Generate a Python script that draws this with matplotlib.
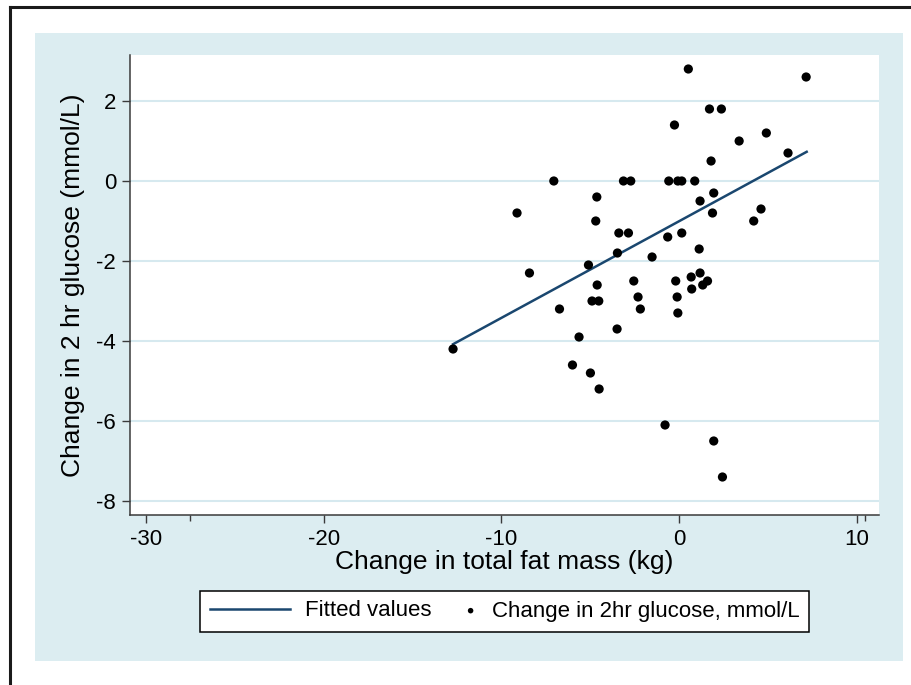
import numpy as np
import matplotlib
matplotlib.use("Agg")
import matplotlib.pyplot as plt
from matplotlib.patches import Rectangle
from matplotlib.lines import Line2D
from matplotlib.legend_handler import HandlerPathCollection

plt.rcParams['font.family'] = ['Liberation Sans', 'DejaVu Sans']
plt.rcParams['axes.unicode_minus'] = False

# change in total fat mass (kg) vs change in 2 hr glucose (mmol/L)
fat_change = [0.52, 7.15, 1.71, 2.38, -0.26, 3.38, 4.91, 6.13, 1.80,
              -7.05, -3.13, -2.72, -0.58, -0.07, 0.15, 0.88,
              -4.63, -9.12, -4.69, 1.18, 1.95, 1.88, 4.61, 4.20,
              -3.39, -2.85, -0.64, 0.15, -3.47, -1.52, 1.13, -5.10,
              -8.42, -4.61, -2.55, -0.19, 0.68, 1.18, 1.60, 1.33, 0.71,
              -4.90, -4.52, -2.31, -0.11, -2.18, -0.07, -6.73, -3.49,
              -5.63, -12.72, -6.00, -4.99, -4.50, -0.79, 1.95, 2.44]
glucose_change = [2.8, 2.6, 1.8, 1.8, 1.4, 1.0, 1.2, 0.7, 0.5,
                  0.0, 0.0, 0.0, 0.0, 0.0, 0.0, 0.0,
                  -0.4, -0.8, -1.0, -0.5, -0.3, -0.8, -0.7, -1.0,
                  -1.3, -1.3, -1.4, -1.3, -1.8, -1.9, -1.7, -2.1,
                  -2.3, -2.6, -2.5, -2.5, -2.4, -2.3, -2.5, -2.6, -2.7,
                  -3.0, -3.0, -2.9, -2.9, -3.2, -3.3, -3.2, -3.7,
                  -3.9, -4.2, -4.6, -4.8, -5.2, -6.1, -6.5, -7.4]

# fitted line end points
fit_x = [-12.72, 7.18]
fit_y = [-4.08, 0.73]

x_ticks = [-30, -20, -10, 0, 10]
y_ticks = [-8, -6, -4, -2, 0, 2]

bg = '#dcedf1'
grid_col = '#d6e9ef'
axis_col = '#3a3a3a'
navy = '#1a476f'


class DotHandler(HandlerPathCollection):
    # put the dot near the right end of the handle box
    def get_xdata(self, legend, xdescent, ydescent, width, height, fontsize):
        xdata = [-xdescent, -xdescent + width]
        return xdata, [-xdescent + width - 0.25 * fontsize]


W, H = 912, 685
fig = plt.figure(figsize=(W / 100, H / 100), dpi=100)
fig.patch.set_facecolor('white')

# light blue graph region
fig.patches.append(Rectangle((35 / W, 1 - 661 / H), (903 - 35) / W, (661 - 33) / H,
                             transform=fig.transFigure, facecolor=bg,
                             edgecolor='none', zorder=-5))
# black frame (top and left)
fig.lines.append(Line2D([10 / W, 1], [1 - 7 / H, 1 - 7 / H], transform=fig.transFigure,
                        color='#1a1a1a', lw=2.2, zorder=-4))
fig.lines.append(Line2D([10 / W, 10 / W], [0, 1 - 7 / H], transform=fig.transFigure,
                        color='#1a1a1a', lw=2.2, zorder=-4))

ax = fig.add_axes([130 / W, 1 - 515 / H, (879 - 130) / W, (515 - 55) / H])
ax.set_facecolor('white')

ax.plot(fit_x, fit_y, color=navy, lw=1.8, label='Fitted values', zorder=3)
sc = ax.scatter(fat_change, glucose_change, s=44, color='black', edgecolors='none',
                label='Change in 2hr glucose, mmol/L', zorder=4)

ax.set_xlim(-30.9, 11.25)
ax.set_ylim(-8.35, 3.15)
ax.set_xticks(x_ticks)
ax.set_yticks(y_ticks)
ax.set_xticks([-27.5, 10.45], minor=True)
ax.yaxis.grid(True, color=grid_col, lw=1.5)
ax.set_axisbelow(True)

for s in ['top', 'right']:
    ax.spines[s].set_visible(False)
for s in ['left', 'bottom']:
    ax.spines[s].set_color(axis_col)
    ax.spines[s].set_linewidth(1.1)

ax.tick_params(which='major', length=6, width=1.0, color=axis_col, labelsize=16, pad=4)
ax.tick_params(axis='x', which='minor', length=4, width=1.0, color=axis_col)

ax.set_xlabel('Change in total fat mass (kg)', fontsize=19, labelpad=0)
ax.set_ylabel('Change in 2 hr glucose (mmol/L)', fontsize=19, labelpad=8)

leg = fig.legend(loc='center', bbox_to_anchor=(504.5 / W, 1 - 611 / H), ncol=2,
                 fontsize=16, frameon=True, fancybox=False, handlelength=3.6,
                 handletextpad=0.7, columnspacing=-1.6, borderpad=0.45,
                 markerscale=0.6, handler_map={sc: DotHandler(numpoints=1)})
leg.get_frame().set_edgecolor('black')
leg.get_frame().set_linewidth(1.1)
leg.get_frame().set_facecolor('white')
leg.get_frame().set_alpha(1)

fig.savefig('out.png', dpi=100, facecolor='white')
